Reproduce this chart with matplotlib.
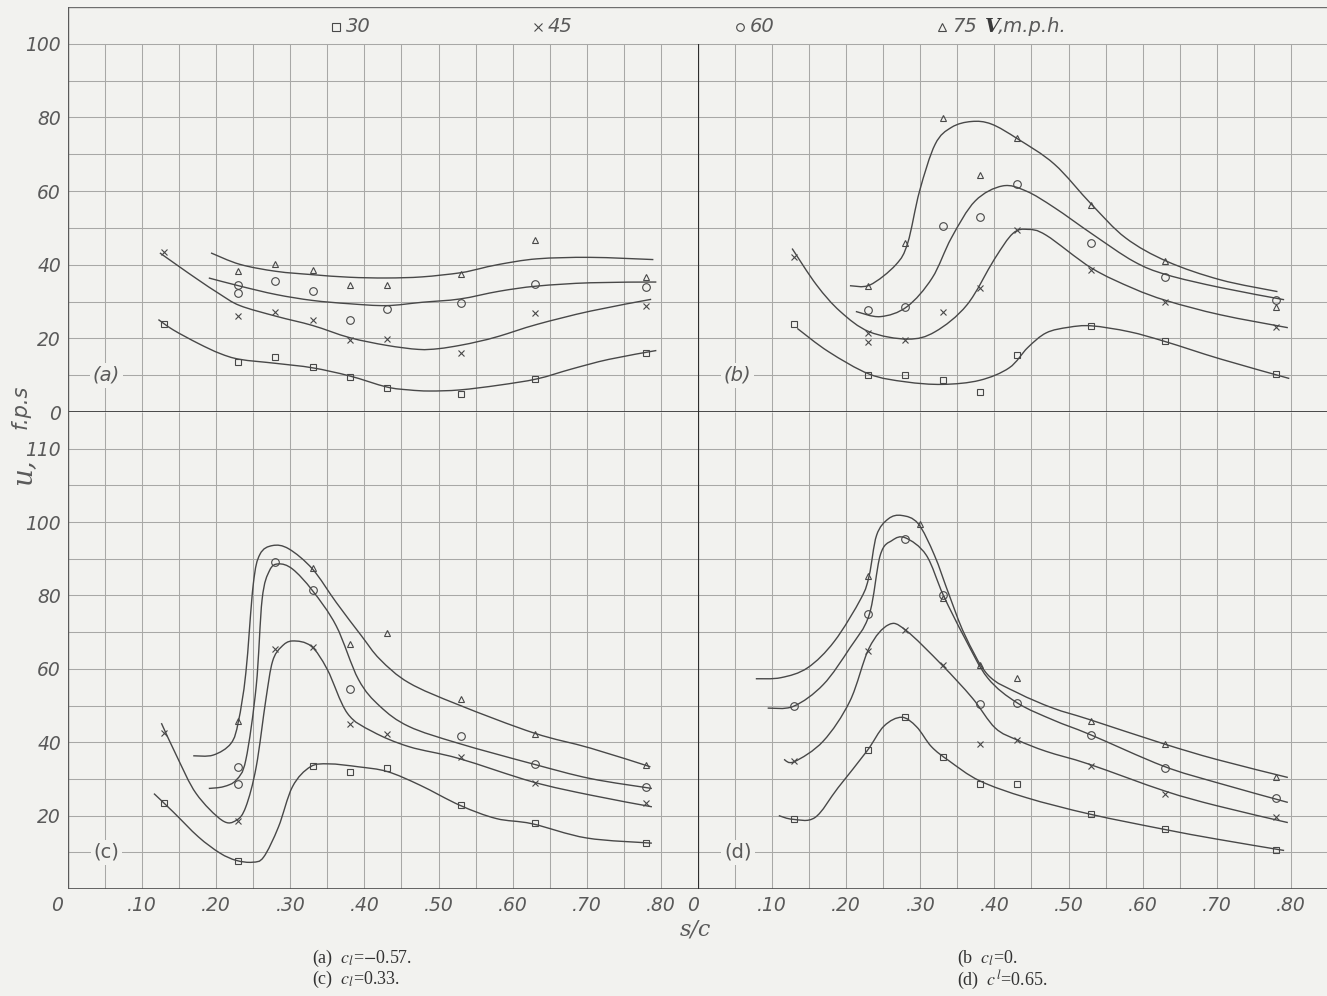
import numpy as np
import matplotlib
matplotlib.use("Agg")
import matplotlib.pyplot as plt
import matplotlib.transforms as mtransforms
from matplotlib.path import Path
from matplotlib.patches import PathPatch
from matplotlib.lines import Line2D

# ---------------------------------------------------------------------------
# Measured points, u (ft/s) against s/c, for four wind speeds
# ---------------------------------------------------------------------------

# (a) cl = -0.57
a_sq_x = [0.13, 0.23, 0.28, 0.33, 0.38, 0.43, 0.53, 0.63, 0.78]
a_sq_y = [24.0, 13.6, 15.0, 12.1, 9.5, 6.6, 4.8, 8.9, 16.1]
a_x_x = [0.13, 0.23, 0.28, 0.33, 0.38, 0.43, 0.53, 0.63, 0.78]
a_x_y = [43.5, 26.0, 27.1, 25.1, 19.5, 19.7, 16.1, 26.9, 28.9]
a_o_x = [0.23, 0.23, 0.28, 0.33, 0.38, 0.43, 0.53, 0.63, 0.78]
a_o_y = [34.4, 32.4, 35.5, 32.8, 25.0, 28.1, 29.7, 34.8, 33.9]
a_t_x = [0.23, 0.28, 0.33, 0.38, 0.43, 0.53, 0.63, 0.78]
a_t_y = [38.2, 40.1, 38.7, 34.4, 34.6, 37.5, 46.8, 36.6]

# faired curves (a)
a_sq_cx = [0.122, 0.142, 0.176, 0.205, 0.232, 0.281, 0.33, 0.38, 0.43, 0.46, 0.488, 0.529, 0.582, 0.633, 0.68, 0.73, 0.794]
a_sq_cy = [25.1, 22.3, 18.6, 15.9, 14.3, 13.2, 12.0, 9.8, 6.8, 6.0, 5.7, 6.0, 7.3, 9.0, 11.7, 14.3, 16.7]
a_x_cx = [0.124, 0.15, 0.175, 0.205, 0.232, 0.281, 0.33, 0.38, 0.43, 0.473, 0.50, 0.529, 0.555, 0.582, 0.633, 0.705, 0.787]
a_x_cy = [43.2, 39.5, 36.0, 32.0, 28.9, 26.0, 23.5, 20.2, 18.1, 17.0, 17.2, 18.1, 19.2, 20.6, 23.8, 27.4, 30.6]
a_o_cx = [0.19, 0.232, 0.281, 0.33, 0.38, 0.43, 0.478, 0.529, 0.582, 0.633, 0.705, 0.794]
a_o_cy = [36.4, 34.2, 31.9, 30.3, 29.4, 28.9, 29.8, 30.7, 32.8, 34.2, 35.1, 35.3]
a_t_cx = [0.193, 0.232, 0.281, 0.33, 0.38, 0.43, 0.478, 0.529, 0.555, 0.582, 0.633, 0.705, 0.79]
a_t_cy = [43.2, 40.1, 38.2, 37.3, 36.6, 36.4, 36.7, 37.8, 38.9, 40.1, 41.6, 42.0, 41.4]

# (b) cl = 0
b_sq_x = [0.13, 0.23, 0.28, 0.33, 0.38, 0.43, 0.53, 0.63, 0.78]
b_sq_y = [23.8, 10.0, 10.0, 8.8, 5.3, 15.6, 23.3, 19.3, 10.4]
b_x_x = [0.13, 0.23, 0.23, 0.28, 0.33, 0.38, 0.43, 0.53, 0.63, 0.78]
b_x_y = [42.0, 21.4, 19.1, 19.5, 27.1, 33.8, 49.5, 38.6, 29.8, 23.1]
b_o_x = [0.23, 0.28, 0.33, 0.38, 0.43, 0.53, 0.63, 0.78]
b_o_y = [27.6, 28.4, 50.5, 52.9, 61.8, 45.9, 36.6, 30.3]
b_t_x = [0.23, 0.28, 0.33, 0.38, 0.43, 0.53, 0.63, 0.78]
b_t_y = [34.3, 45.9, 79.8, 64.5, 74.5, 56.2, 40.9, 28.5]

b_sq_cx = [0.134, 0.176, 0.231, 0.28, 0.33, 0.38, 0.42, 0.445, 0.47, 0.50, 0.531, 0.582, 0.631, 0.705, 0.798]
b_sq_cy = [22.7, 16.4, 10.3, 8.2, 7.5, 8.6, 12.0, 17.5, 21.5, 23.0, 23.4, 21.8, 19.1, 14.4, 9.1]
b_x_cx = [0.127, 0.16, 0.192, 0.231, 0.283, 0.32, 0.363, 0.40, 0.425, 0.445, 0.47, 0.531, 0.587, 0.633, 0.705, 0.796]
b_x_cy = [44.4, 34.5, 27.3, 21.8, 19.8, 21.8, 29.1, 41.5, 48.5, 49.6, 48.0, 39.1, 33.6, 30.2, 26.4, 22.9]
b_o_cx = [0.213, 0.246, 0.282, 0.316, 0.342, 0.374, 0.411, 0.443, 0.481, 0.533, 0.588, 0.632, 0.705, 0.791]
b_o_cy = [27.3, 25.9, 28.6, 36.4, 47.3, 57.3, 61.4, 60.0, 55.5, 48.2, 40.9, 37.3, 33.8, 30.5]
b_t_cx = [0.205, 0.232, 0.267, 0.283, 0.299, 0.32, 0.342, 0.369, 0.396, 0.432, 0.481, 0.531, 0.577, 0.633, 0.705, 0.782]
b_t_cy = [34.3, 34.5, 40.0, 45.9, 60.0, 72.7, 77.3, 78.9, 78.2, 74.1, 67.3, 56.4, 47.3, 40.9, 35.9, 32.7]

# (c) cl = 0.33
c_sq_x = [0.13, 0.23, 0.33, 0.38, 0.43, 0.53, 0.63, 0.78]
c_sq_y = [23.5, 7.5, 33.6, 32.0, 32.9, 22.8, 18.0, 12.5]
c_x_x = [0.13, 0.23, 0.28, 0.33, 0.38, 0.43, 0.53, 0.63, 0.78]
c_x_y = [42.5, 18.5, 65.3, 65.9, 45.0, 42.3, 36.1, 28.8, 23.5]
c_o_x = [0.23, 0.23, 0.28, 0.33, 0.38, 0.53, 0.63, 0.78]
c_o_y = [33.3, 28.6, 89.2, 81.6, 54.5, 41.6, 34.1, 27.9]
c_t_x = [0.23, 0.33, 0.38, 0.43, 0.53, 0.63, 0.78]
c_t_y = [45.7, 87.4, 66.7, 69.9, 51.8, 42.2, 33.8]

c_sq_cx = [0.116, 0.142, 0.176, 0.205, 0.227, 0.249, 0.264, 0.284, 0.303, 0.327, 0.352, 0.392, 0.431, 0.475, 0.529, 0.578, 0.626, 0.70, 0.788]
c_sq_cy = [26.0, 21.0, 14.2, 9.8, 7.8, 7.3, 8.7, 16.9, 27.9, 33.3, 34.1, 33.3, 32.0, 28.3, 22.8, 19.2, 17.8, 13.9, 12.5]
c_x_cx = [0.126, 0.147, 0.173, 0.208, 0.227, 0.24, 0.254, 0.267, 0.276, 0.288, 0.303, 0.328, 0.35, 0.377, 0.411, 0.46, 0.527, 0.627, 0.705, 0.788]
c_x_cy = [45.2, 36.1, 26.0, 18.7, 18.7, 22.4, 33.3, 51.6, 62.0, 66.0, 67.6, 66.2, 59.8, 47.9, 42.9, 38.8, 35.6, 29.2, 25.6, 22.4]
c_o_cx = [0.19, 0.21, 0.227, 0.24, 0.254, 0.262, 0.272, 0.284, 0.303, 0.33, 0.362, 0.392, 0.421, 0.46, 0.527, 0.627, 0.705, 0.788]
c_o_cy = [27.4, 27.9, 29.7, 35.2, 55.3, 79.0, 86.8, 88.6, 87.2, 81.3, 71.7, 57.1, 49.8, 44.3, 39.7, 34.1, 30.1, 27.4]
c_t_cx = [0.169, 0.196, 0.22, 0.23, 0.24, 0.25, 0.259, 0.276, 0.298, 0.33, 0.362, 0.396, 0.421, 0.46, 0.527, 0.629, 0.705, 0.786]
c_t_cy = [36.3, 36.5, 39.7, 45.7, 58.9, 83.0, 91.2, 93.6, 92.7, 87.2, 78.1, 69.0, 62.6, 56.2, 50.2, 42.5, 38.4, 33.3]

# (d) cl = 0.65
d_sq_x = [0.13, 0.23, 0.28, 0.33, 0.38, 0.43, 0.53, 0.63, 0.78]
d_sq_y = [19.0, 37.8, 46.9, 36.0, 28.6, 28.6, 20.4, 16.3, 10.6]
d_x_x = [0.13, 0.23, 0.28, 0.33, 0.38, 0.43, 0.53, 0.63, 0.78]
d_x_y = [34.9, 64.8, 70.6, 61.1, 39.6, 40.6, 33.5, 25.8, 19.5]
d_o_x = [0.13, 0.23, 0.28, 0.33, 0.38, 0.43, 0.53, 0.63, 0.78]
d_o_y = [49.8, 74.9, 95.5, 80.1, 50.4, 50.7, 42.1, 33.1, 24.9]
d_t_x = [0.23, 0.30, 0.33, 0.38, 0.43, 0.53, 0.63, 0.78]
d_t_y = [85.4, 99.6, 79.2, 61.1, 57.6, 45.9, 39.6, 30.5]

d_sq_cx = [0.109, 0.128, 0.158, 0.189, 0.228, 0.251, 0.275, 0.295, 0.315, 0.339, 0.38, 0.443, 0.529, 0.628, 0.70, 0.791]
d_sq_cy = [20.0, 19.0, 19.5, 27.6, 37.6, 44.4, 46.8, 44.2, 38.8, 34.9, 29.5, 24.9, 20.4, 16.3, 13.6, 10.5]
d_x_cx = [0.116, 0.13, 0.169, 0.205, 0.231, 0.257, 0.28, 0.329, 0.37, 0.401, 0.431, 0.47, 0.528, 0.63, 0.70, 0.796]
d_x_cy = [35.3, 34.7, 40.3, 51.2, 65.7, 72.0, 70.6, 61.1, 52.1, 43.9, 40.6, 37.5, 34.0, 26.7, 22.7, 18.1]
d_o_cx = [0.094, 0.129, 0.169, 0.205, 0.231, 0.246, 0.262, 0.28, 0.308, 0.331, 0.36, 0.391, 0.431, 0.48, 0.529, 0.628, 0.70, 0.796]
d_o_cy = [49.3, 49.8, 55.7, 65.7, 74.7, 91.0, 95.0, 95.7, 91.0, 80.1, 68.4, 57.5, 50.7, 46.0, 42.1, 33.5, 29.0, 23.6]
d_t_cx = [0.078, 0.112, 0.148, 0.184, 0.22, 0.231, 0.241, 0.257, 0.275, 0.297, 0.319, 0.339, 0.36, 0.391, 0.432, 0.479, 0.528, 0.628, 0.70, 0.796]
d_t_cy = [57.3, 57.6, 60.3, 67.5, 79.2, 85.4, 96.4, 100.9, 101.8, 99.6, 91.0, 80.1, 69.3, 58.4, 53.4, 49.3, 46.2, 39.6, 35.3, 30.4]

# legend / tick text
speeds = ["30", "45", "60", "75"]
x_tick_vals = [0.0, 0.1, 0.2, 0.3, 0.4, 0.5, 0.6, 0.7, 0.8]
x_tick_text = ["0", ".10", ".20", ".30", ".40", ".50", ".60", ".70", ".80"]
top_y_vals = [0, 20, 40, 60, 80, 100]
top_y_text = ["0", "20", "40", "60", "80", "100"]
bot_y_vals = [20, 40, 60, 80, 100, 120]
bot_y_text = ["20", "40", "60", "80", "100", "110"]

# ---------------------------------------------------------------------------
PAPER = "#f2f2ef"
GRID = "#a8a8a6"
INK = "#484848"
LBL = "#5a5a5a"

plt.rcParams["mathtext.fontset"] = "stix"

W, H = 1327, 996
fig = plt.figure(figsize=(W / 100, H / 100), dpi=100, facecolor=PAPER)

PX_PER_UNIT = 741.0
PX_PER_FPS = 3.68
x_left0 = 68.0
x_div = 698.0
y_mid = 412.0
y_top = 7.0
y_bot = 889.0
xmax = (x_div - x_left0) / PX_PER_UNIT
xmax_right = (W - x_div) / PX_PER_UNIT


def make_ax(px0, px1, py_top, py_bot):
    return fig.add_axes([px0 / W, 1 - py_bot / H, (px1 - px0) / W, (py_bot - py_top) / H])


ax_a = make_ax(x_left0, x_div, y_top, y_mid)
ax_b = make_ax(x_div, W, y_top, y_mid)
ax_c = make_ax(x_left0, x_div, y_mid, y_bot)
ax_d = make_ax(x_div, W, y_mid, y_bot)

for ax, right, top in [(ax_a, False, True), (ax_b, True, True), (ax_c, False, False), (ax_d, True, False)]:
    ax.set_facecolor("none")
    ax.set_xlim(0, xmax_right if right else xmax)
    ax.set_ylim(0, 110 if top else 130)
    ytop_grid = 100 if top else 130
    # grid: every 0.05 in s/c and every 10 ft/s
    for k in range(1, 18):
        gx = 0.05 * k
        if gx >= ax.get_xlim()[1] - 1e-6:
            continue
        ax.plot([gx, gx], [0, ytop_grid], color=GRID, lw=0.75, zorder=1, solid_capstyle="butt")
    for gy in range(10, 101 if top else 130, 10):
        ax.axhline(gy, color=GRID, lw=0.75, zorder=1)
    for s in ax.spines.values():
        s.set_visible(False)
    ax.tick_params(length=0, colors=LBL, pad=5)
    ax.set_xticks([])
    ax.set_yticks([])

# frame lines
for ax in (ax_a, ax_b):
    ax.axhline(0, color="#3c3c3c", lw=1.3, zorder=2)
    ax.axhline(110, color="#6e6e6e", lw=1.0, zorder=2)
for ax in (ax_c, ax_d):
    ax.axhline(0, color="#4a4a4a", lw=1.2, zorder=2)
for ax in (ax_a, ax_c):
    ax.axvline(0, color="#5a5a5a", lw=1.0, zorder=2)
ax_b.plot([0, 0], [0, 100], color="#2e2e2e", lw=1.6, zorder=2, solid_capstyle="butt")
ax_d.axvline(0, color="#2e2e2e", lw=1.6, zorder=2)

# y tick labels
lab_font = dict(fontstyle="italic", fontsize=13.5, color=LBL, family="DejaVu Sans")
ax_a.set_yticks(top_y_vals)
ax_a.set_yticklabels(top_y_text, **lab_font)
ax_c.set_yticks(bot_y_vals)
ax_c.set_yticklabels(bot_y_text, **lab_font)

# x tick labels
for ax in (ax_c, ax_d):
    ax.set_xticks(x_tick_vals)
    ax.set_xticklabels(x_tick_text, **lab_font)
    ax.tick_params(axis="x", pad=5)
    first = ax.get_xticklabels()[0]
    shift = -11 if ax is ax_c else -5
    first.set_transform(first.get_transform() + mtransforms.ScaledTranslation(shift / 100, 0, fig.dpi_scale_trans))


def faired_curve(ax, xs, ys, **kw):
    """Draw a smooth hand-faired curve through the knots as cubic Bezier pieces."""
    p = np.column_stack([np.asarray(xs) * PX_PER_UNIT, np.asarray(ys) * PX_PER_FPS])
    n = len(p)
    verts = [p[0]]
    codes = [Path.MOVETO]
    for i in range(n - 1):
        p0 = p[i - 1] if i > 0 else p[i]
        p1, p2 = p[i], p[i + 1]
        p3 = p[i + 2] if i + 2 < n else p[i + 1]
        verts += [p1 + (p2 - p0) / 6.0, p2 - (p3 - p1) / 6.0, p2]
        codes += [Path.CURVE4] * 3
    verts = np.array(verts) / [PX_PER_UNIT, PX_PER_FPS]
    ax.add_patch(PathPatch(Path(verts, codes), fill=False, **kw))


# data
mk = dict(ls="none", mfc="none", mec=INK, mew=0.8, zorder=4)
cv = dict(edgecolor=INK, lw=1.0, zorder=3)
panels = [
    (ax_a, [(a_sq_x, a_sq_y, a_sq_cx, a_sq_cy), (a_x_x, a_x_y, a_x_cx, a_x_cy),
            (a_o_x, a_o_y, a_o_cx, a_o_cy), (a_t_x, a_t_y, a_t_cx, a_t_cy)]),
    (ax_b, [(b_sq_x, b_sq_y, b_sq_cx, b_sq_cy), (b_x_x, b_x_y, b_x_cx, b_x_cy),
            (b_o_x, b_o_y, b_o_cx, b_o_cy), (b_t_x, b_t_y, b_t_cx, b_t_cy)]),
    (ax_c, [(c_sq_x, c_sq_y, c_sq_cx, c_sq_cy), (c_x_x, c_x_y, c_x_cx, c_x_cy),
            (c_o_x, c_o_y, c_o_cx, c_o_cy), (c_t_x, c_t_y, c_t_cx, c_t_cy)]),
    (ax_d, [(d_sq_x, d_sq_y, d_sq_cx, d_sq_cy), (d_x_x, d_x_y, d_x_cx, d_x_cy),
            (d_o_x, d_o_y, d_o_cx, d_o_cy), (d_t_x, d_t_y, d_t_cx, d_t_cy)]),
]
markers = [("s", 5.0), ("x", 5.0), ("o", 5.5), ("^", 5.0)]
for ax, series in panels:
    for (px, py, cx, cy), (m, ms) in zip(series, markers):
        faired_curve(ax, cx, cy, **cv)
        ax.plot(px, py, marker=m, ms=ms, **mk)

# panel tags
tag_font = dict(fontsize=14, color=LBL, family="DejaVu Sans", ha="center", va="center", zorder=5,
                bbox=dict(boxstyle="square,pad=0.15", fc=PAPER, ec="none"))
ax_a.text(0.052, 10, "(a)", fontstyle="italic", **tag_font)
ax_b.text(0.053, 10, "(b)", fontstyle="italic", **tag_font)
ax_c.text(0.052, 10, "(c)", **tag_font)
ax_d.text(0.054, 10, "(d)", **tag_font)

# legend row across the top band
leg_y = 1 - 27 / H
leg_font = dict(fontsize=14, color=LBL, fontstyle="italic", family="DejaVu Sans", va="center")
leg_items = [(336, "s", speeds[0]), (538, "x", speeds[1]), (740, "o", speeds[2]), (942, "^", speeds[3])]
for lx, m, txt in leg_items:
    fig.lines.append(Line2D([lx / W], [leg_y], marker=m, ms=5.5, mfc="none", mec=INK,
                            mew=0.8, ls="none", transform=fig.transFigure))
    fig.text((lx + 10) / W, leg_y, txt, **leg_font)
fig.text(985 / W, leg_y, "V", fontsize=14, color="#3a3a3a", fontweight="bold", fontstyle="italic",
         family="DejaVu Serif", va="center")
fig.text(998 / W, leg_y, ",m.p.h.", **leg_font)

# axis titles
fig.text(23 / W, 1 - 472 / H, "u,", rotation=90, fontsize=20, color=LBL, fontstyle="italic",
         family="DejaVu Serif", ha="center", va="center")
fig.text(21 / W, 1 - 407 / H, "f.p.s", rotation=90, fontsize=15, color=LBL, fontstyle="italic",
         family="DejaVu Sans", ha="center", va="center")
fig.text(695 / W, 1 - 930 / H, "s/c", fontsize=16, color=LBL, fontstyle="italic",
         family="DejaVu Serif", ha="center", va="center")

# captions
cap = dict(fontsize=13, color="#333333", family="Liberation Serif", va="center", ha="left")
fig.text(312 / W, 1 - 958 / H, r"(a)  $c_l$=$-$0.57.", **cap)
fig.text(312 / W, 1 - 979 / H, r"(c)  $c_l$=0.33.", **cap)
fig.text(957 / W, 1 - 958 / H, r"(b  $c_l$=0.", **cap)
fig.text(957 / W, 1 - 980 / H, r"(d)  $c^l$=0.65.", **cap)

fig.savefig("out.png", dpi=100, facecolor=PAPER)
